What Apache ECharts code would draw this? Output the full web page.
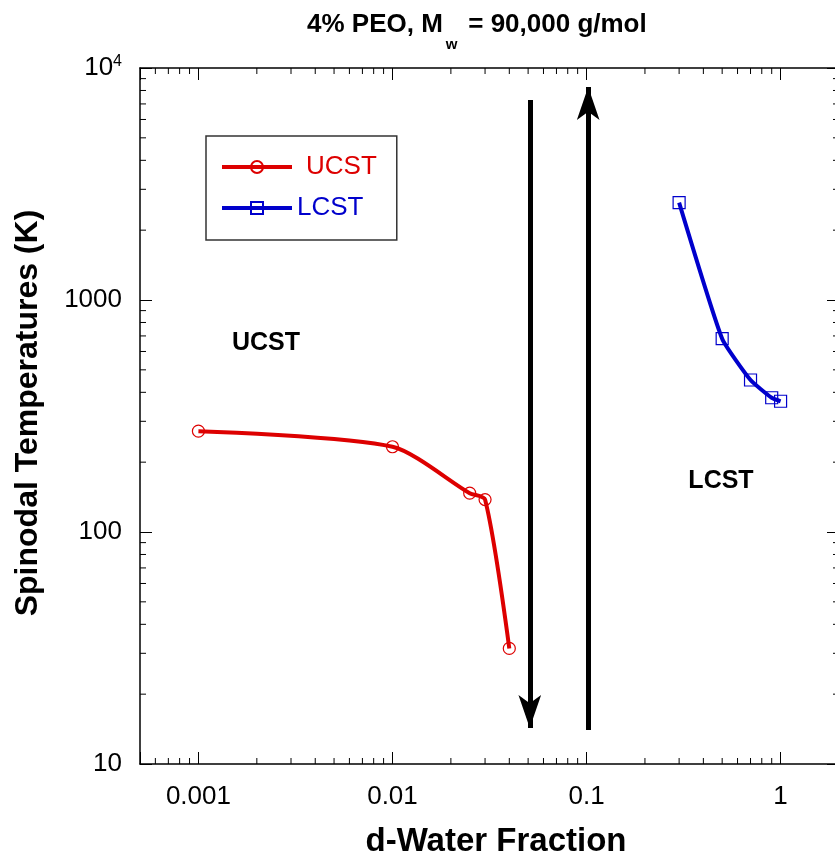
<!DOCTYPE html>
<html><head><meta charset="utf-8">
<script src="https://cdn.jsdelivr.net/npm/echarts@6/dist/echarts.min.js"></script>
<style>html,body{margin:0;padding:0;background:#fff}#c{width:835px;height:864px}</style>
</head><body><div id="c"></div>
<script>
// ---- data ----
const ucstX = [0.001, 0.01, 0.025, 0.03, 0.04];
const ucstY = [272, 233, 147, 138, 31.5];
const lcstX = [0.3, 0.5, 0.7, 0.9, 1.0];
const lcstY = [2630, 681, 452, 379, 366];
const arrowDownX = 0.051, arrowDownY = [7280, 14.3];
const arrowUpX = 0.102, arrowUpY = [14.0, 8280];
const xTickLabels = ['0.001', '0.01', '0.1', '1'];
const yTickLabels = ['10', '100', '1000', '10^4'];
const xRange = [0.0005, 2];
const yRange = [10, 10000];

// ---- styling ----
const RED = '#dd0000', BLUE = '#0000cc';
const FF = '"Liberation Sans", Arial, Helvetica, sans-serif';

function isPow10(v) { const l = Math.log10(v); return Math.abs(l - Math.round(l)) < 1e-6; }
function decadeMinors(lo, hi) {
  const out = [];
  for (let e = Math.floor(Math.log10(lo)); e <= Math.ceil(Math.log10(hi)); e++) {
    for (let m = 2; m <= 9; m++) { const v = m * Math.pow(10, e); if (v > lo * 1.0001 && v < hi * 0.9999) out.push(+v.toPrecision(6)); }
  }
  return out;
}
const xMinor = decadeMinors(xRange[0], xRange[1]);
const yMinor = decadeMinors(yRange[0], yRange[1]);

const ctx = document.createElement('canvas').getContext('2d');
function tw(t, font) { ctx.font = font; return ctx.measureText(t).width; }

const chart = echarts.init(document.getElementById('c'), null, { renderer: 'canvas' });

function xFmt(v) {
  if (!isPow10(v)) return '';
  const e = Math.round(Math.log10(v));
  const idx = e + 3;
  return xTickLabels[idx] !== undefined ? xTickLabels[idx] : '';
}
function yFmt(v) {
  if (!isPow10(v)) return '';
  const e = Math.round(Math.log10(v));
  const s = yTickLabels[e - 1];
  if (s === undefined) return '';
  if (s.indexOf('^') >= 0) { const p = s.split('^'); return '{b|' + p[0] + '}{s|' + p[1] + '}'; }
  return '{b|' + s + '}';
}

const axisLine = { show: true, onZero: false, lineStyle: { color: '#000', width: 1.5 } };
const axisTick = { show: true, inside: true, length: 12, lineStyle: { color: '#000', width: 1 } };

const titleFont1 = 'bold 26px ' + FF;
const p1 = '4% PEO, M';
const p1w = tw(p1, titleFont1);

const option = {
  animation: false,
  backgroundColor: '#fff',
  grid: { left: 140, top: 68, right: -4, bottom: 100, containLabel: false, outerBoundsMode: 'none' },
  legend: {
    data: [{ name: 'UCST' }, { name: 'LCST' }],
    orient: 'vertical', left: 206, top: 136,
    padding: [18, 20, 19, 14], itemGap: 15, itemWidth: 70, itemHeight: 15,
    borderColor: '#333', borderWidth: 1.5, backgroundColor: '#fff',
    selectedMode: false,
    lineStyle: { width: 4 },
    formatter: n => n === 'UCST' ? '{u|UCST}' : '{l|LCST}',
    textStyle: {
      fontSize: 26, fontFamily: FF, lineHeight: 15,
      rich: {
        u: { color: RED, fontSize: 26, fontFamily: FF, lineHeight: 15, padding: [0, 0, 0, 9] },
        l: { color: BLUE, fontSize: 26, fontFamily: FF, lineHeight: 15 }
      }
    }
  },
  xAxis: [{
    type: 'log', logBase: 10, min: xRange[0], max: xRange[1], position: 'bottom',
    axisLine, axisTick,
    axisLabel: { margin: 20, fontSize: 26, color: '#000', fontFamily: FF, formatter: xFmt, showMinLabel: true, showMaxLabel: true },
    splitLine: { show: false }, minorTick: { show: false },
    name: 'd-Water Fraction', nameLocation: 'middle', nameGap: 61,
    nameTextStyle: { fontSize: 33, fontWeight: 'bold', color: '#000', fontFamily: FF, padding: [0, 0, 0, 13] }
  }, {
    type: 'log', logBase: 10, min: xRange[0], max: xRange[1], position: 'top',
    axisLine, axisTick, axisLabel: { show: false }, splitLine: { show: false }
  }],
  yAxis: [{
    type: 'log', logBase: 10, min: yRange[0], max: yRange[1], position: 'left',
    axisLine, axisTick,
    axisLabel: {
      margin: 18, fontSize: 26, color: '#000', fontFamily: FF, formatter: yFmt,
      rich: {
        b: { fontSize: 26, fontFamily: FF, color: '#000' },
        s: { fontSize: 16, fontFamily: FF, color: '#000', padding: [0, 0, 12, 0] }
      }
    },
    splitLine: { show: false },
    name: 'Spinodal Temperatures (K)', nameLocation: 'middle', nameGap: 96, nameRotate: 90,
    nameTextStyle: { fontSize: 32, fontWeight: 'bold', color: '#000', fontFamily: FF, padding: [0, 0, 0, 6] }
  }, {
    type: 'log', logBase: 10, min: yRange[0], max: yRange[1], position: 'right',
    axisLine, axisTick, axisLabel: { show: false }, splitLine: { show: false }
  }],
  graphic: [
    { type: 'text', left: 307, top: 12, style: { text: p1, font: titleFont1, fill: '#000' } },
    { type: 'text', left: 307 + p1w + 3, top: 37, style: { text: 'w', font: 'bold 15px ' + FF, fill: '#000' } },
    { type: 'text', left: 461, top: 12, style: { text: ' = 90,000 g/mol', font: titleFont1, fill: '#000' } },
    { type: 'text', x: 266, y: 343, style: { text: 'UCST', font: 'bold 25px ' + FF, fill: '#000', textAlign: 'center', textVerticalAlign: 'middle' } },
    { type: 'text', x: 721, y: 481, style: { text: 'LCST', font: 'bold 25px ' + FF, fill: '#000', textAlign: 'center', textVerticalAlign: 'middle' } }
  ],
  series: [
    {
      name: 'UCST', type: 'line', data: ucstX.map((x, i) => [x, ucstY[i]]),
      smooth: 0.25, symbol: 'circle', symbolSize: 12, showSymbol: true,
      lineStyle: { color: RED, width: 4 },
      itemStyle: { color: 'rgba(255,255,255,0)', borderColor: RED, borderWidth: 1.2 },
      z: 3, silent: true
    },
    {
      name: 'LCST', type: 'line', data: lcstX.map((x, i) => [x, lcstY[i]]),
      smooth: 0.15, symbol: 'rect', symbolSize: 12, showSymbol: true,
      lineStyle: { color: BLUE, width: 4 },
      itemStyle: { color: 'rgba(255,255,255,0)', borderColor: BLUE, borderWidth: 1.2 },
      z: 3, silent: true
    },
    {
      name: 'arrows', type: 'lines', coordinateSystem: 'cartesian2d', xAxisIndex: 0, yAxisIndex: 0,
      symbol: ['none', 'arrow'], symbolSize: [1, [17, 33]],
      lineStyle: { color: '#000', width: 5, opacity: 1, curveness: 0 },
      data: [
        { coords: [[arrowDownX, arrowDownY[0]], [arrowDownX, arrowDownY[1]]] },
        { coords: [[arrowUpX, arrowUpY[0]], [arrowUpX, arrowUpY[1]]] }
      ],
      silent: true, z: 2
    },
    {
      name: 'xminor', type: 'custom', xAxisIndex: 0, yAxisIndex: 0, silent: true,
      data: xMinor.map(v => [v, yRange[0]]),
      renderItem(params, api) {
        const v = api.value(0);
        const b = api.coord([v, yRange[0]]), t = api.coord([v, yRange[1]]);
        return { type: 'group', children: [
          { type: 'line', shape: { x1: b[0], y1: b[1], x2: b[0], y2: b[1] - 6 }, style: { stroke: '#000', lineWidth: 1 } },
          { type: 'line', shape: { x1: t[0], y1: t[1], x2: t[0], y2: t[1] + 6 }, style: { stroke: '#000', lineWidth: 1 } }
        ] };
      }
    },
    {
      name: 'yminor', type: 'custom', xAxisIndex: 0, yAxisIndex: 0, silent: true,
      data: yMinor.map(v => [xRange[0], v]),
      renderItem(params, api) {
        const v = api.value(1);
        const l = api.coord([xRange[0], v]), r = api.coord([xRange[1], v]);
        return { type: 'group', children: [
          { type: 'line', shape: { x1: l[0], y1: l[1], x2: l[0] + 6, y2: l[1] }, style: { stroke: '#000', lineWidth: 1 } },
          { type: 'line', shape: { x1: r[0], y1: r[1], x2: r[0] - 6, y2: r[1] }, style: { stroke: '#000', lineWidth: 1 } }
        ] };
      }
    }
  ]
};
chart.setOption(option);
</script>
</body></html>
